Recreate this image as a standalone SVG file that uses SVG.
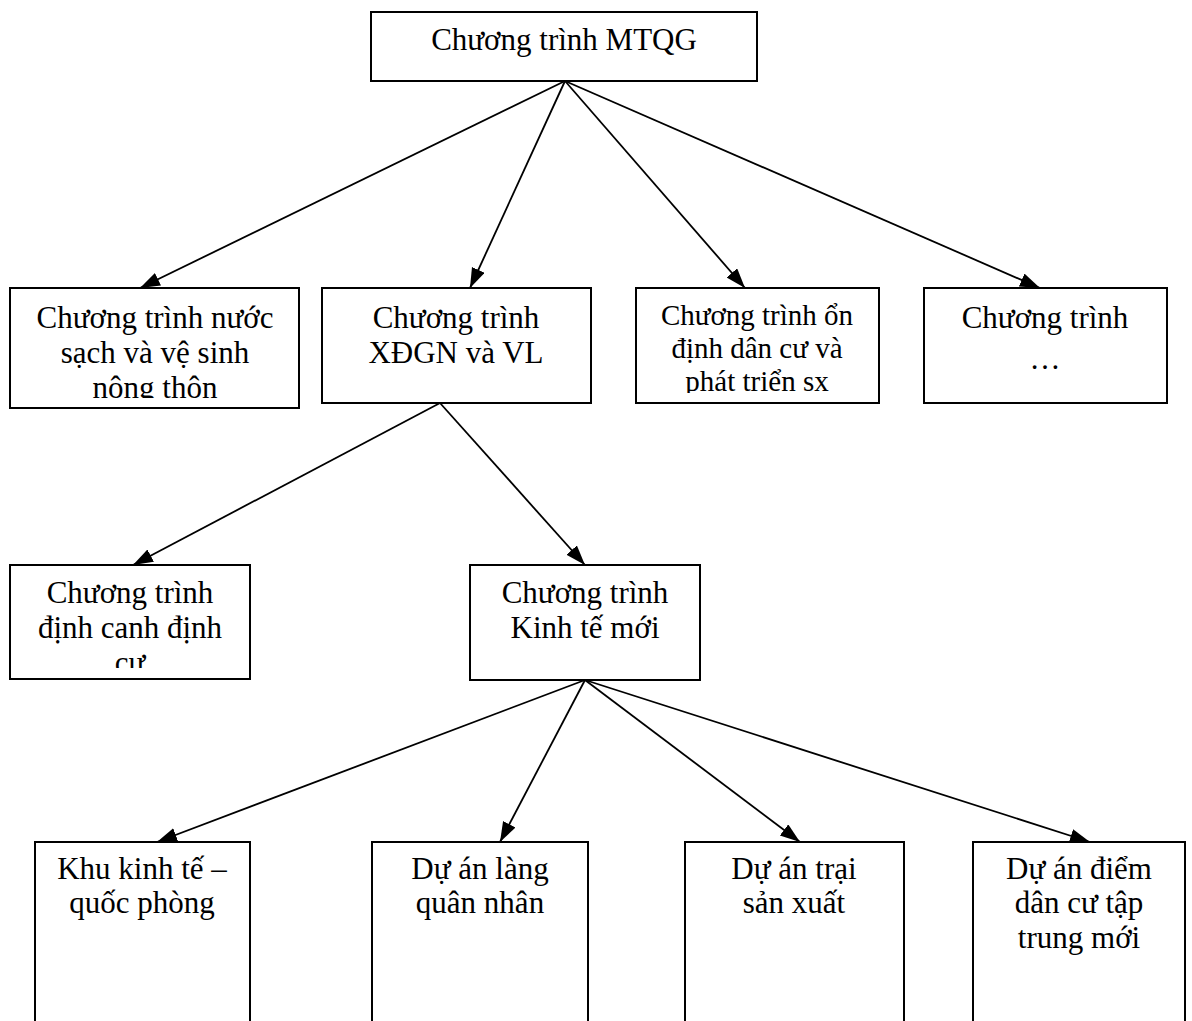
<svg xmlns="http://www.w3.org/2000/svg" width="1192" height="1021" viewBox="0 0 1192 1021">
<style>
.box{fill:#fff;stroke:#000;stroke-width:2}
.t{font-family:"Liberation Serif","Times New Roman",serif;font-size:31px;fill:#000;text-anchor:middle}
.s{font-size:29px}
.c line{stroke:#000;stroke-width:1.8;marker-end:url(#ah)}
</style>
<defs>
<marker id="ah" markerUnits="userSpaceOnUse" markerWidth="22" markerHeight="16" refX="20" refY="7" orient="auto">
<path d="M0,0 L20,7 L0,14 z" fill="#000"/>
</marker>
<clipPath id="cp1"><rect x="10" y="288" width="289" height="110"/></clipPath>
<clipPath id="cp3"><rect x="636" y="288" width="243" height="105"/></clipPath>
<clipPath id="cp5"><rect x="10" y="565" width="240" height="103"/></clipPath>
</defs>
<rect width="1192" height="1021" fill="#fff"/>
<g class="c" id="connectors">
<line x1="565" y1="81" x2="140" y2="288"/>
<line x1="565" y1="81" x2="470" y2="288"/>
<line x1="565" y1="81" x2="745" y2="288"/>
<line x1="565" y1="81" x2="1040" y2="288"/>
<line x1="440" y1="403" x2="133" y2="565"/>
<line x1="440" y1="403" x2="585" y2="565"/>
<line x1="585" y1="680" x2="157" y2="842"/>
<line x1="585" y1="680" x2="500" y2="842"/>
<line x1="585" y1="680" x2="800" y2="842"/>
<line x1="585" y1="680" x2="1090" y2="842"/>
</g>
<g id="n0"><rect class="box" x="371" y="12" width="386" height="69"/><text class="t" x="564" y="50">Chương trình MTQG</text></g>
<g id="n1"><rect class="box" x="10" y="288" width="289" height="120"/><g clip-path="url(#cp1)"><text class="t" x="155" y="328">Chương trình nước</text><text class="t" x="155" y="363">sạch và vệ sinh</text><text class="t" x="155" y="398">nông thôn</text></g></g>
<g id="n2"><rect class="box" x="322" y="288" width="269" height="115"/><text class="t" x="456" y="328">Chương trình</text><text class="t" x="456" y="363">XĐGN và VL</text></g>
<g id="n3"><rect class="box" x="636" y="288" width="243" height="115"/><g clip-path="url(#cp3)"><text class="t s" x="757" y="325">Chương trình ổn</text><text class="t s" x="757" y="358">định dân cư và</text><text class="t s" x="757" y="391">phát triển sx</text></g></g>
<g id="n4"><rect class="box" x="924" y="288" width="243" height="115"/><text class="t" x="1045" y="328">Chương trình</text><text class="t" x="1045" y="369">…</text></g>
<g id="n5"><rect class="box" x="10" y="565" width="240" height="114"/><g clip-path="url(#cp5)"><text class="t" x="130" y="603">Chương trình</text><text class="t" x="130" y="638">định canh định</text><text class="t" x="130" y="673">cư</text></g></g>
<g id="n6"><rect class="box" x="470" y="565" width="230" height="115"/><text class="t" x="585" y="603">Chương trình</text><text class="t" x="585" y="638">Kinh tế mới</text></g>
<g id="n7"><rect class="box" x="35" y="842" width="215" height="200"/><text class="t" x="142" y="879">Khu kinh tế –</text><text class="t" x="142" y="913">quốc phòng</text></g>
<g id="n8"><rect class="box" x="372" y="842" width="216" height="200"/><text class="t" x="480" y="879">Dự án làng</text><text class="t" x="480" y="913">quân nhân</text></g>
<g id="n9"><rect class="box" x="685" y="842" width="219" height="200"/><text class="t" x="794" y="879">Dự án trại</text><text class="t" x="794" y="913">sản xuất</text></g>
<g id="n10"><rect class="box" x="973" y="842" width="212" height="200"/><text class="t" x="1079" y="879">Dự án điểm</text><text class="t" x="1079" y="913">dân cư tập</text><text class="t" x="1079" y="948">trung mới</text></g>
</svg>
